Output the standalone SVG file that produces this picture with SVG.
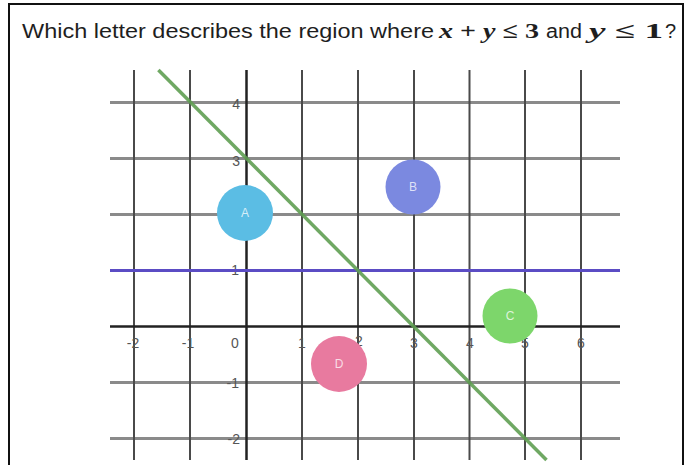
<svg xmlns="http://www.w3.org/2000/svg" width="686" height="465" viewBox="0 0 686 465">
<style>
.title{font-family:"Liberation Sans","Open Sans",sans-serif;font-size:20px;fill:#1e1e1e}
.m{font-family:"Liberation Serif",serif;font-weight:bold;font-size:22px;fill:#1e1e1e}
.mi{font-style:italic}
.hg{stroke:#8a8a8a;stroke-width:3}
.vg{stroke:#4a4a4a;stroke-width:2}
.ax{stroke:#222;stroke-width:2.5}
.lbl{font-family:"Liberation Sans",Arial,sans-serif;font-size:14px;fill:#555}
.cl{font-family:"Liberation Sans",Arial,sans-serif;font-size:12px;fill:#ffffff;fill-opacity:0.75;text-anchor:middle}
</style>
<rect x="0" y="0" width="686" height="465" fill="#ffffff"/>
<path d="M9,465 V4 H683 V465" fill="none" stroke="#111" stroke-width="2"/>
<g id="title">
<text class="title" x="22" y="38" textLength="412" lengthAdjust="spacingAndGlyphs">Which letter describes the region where</text>
<text class="m" x="439" y="38" textLength="100" lengthAdjust="spacingAndGlyphs"><tspan class="mi">x</tspan> + <tspan class="mi">y</tspan> ≤ 3</text>
<text class="title" x="546" y="38" textLength="36" lengthAdjust="spacingAndGlyphs">and</text>
<text class="m" x="589" y="38" textLength="74" lengthAdjust="spacingAndGlyphs"><tspan class="mi">y</tspan> ≤ 1</text>
<text class="title" x="665" y="38">?</text>
</g>
<g id="grid">
<line class="hg" x1="110" y1="102.5" x2="620" y2="102.5"/>
<line class="hg" x1="110" y1="158.5" x2="620" y2="158.5"/>
<line class="hg" x1="110" y1="214.5" x2="620" y2="214.5"/>
<line class="hg" x1="110" y1="382.5" x2="620" y2="382.5"/>
<line class="hg" x1="110" y1="438.5" x2="620" y2="438.5"/>
<line class="vg" x1="134" y1="70" x2="134" y2="460"/>
<line class="vg" x1="190" y1="70" x2="190" y2="460"/>
<line class="vg" x1="302" y1="70" x2="302" y2="460"/>
<line class="vg" x1="358" y1="70" x2="358" y2="460"/>
<line class="vg" x1="414" y1="70" x2="414" y2="460"/>
<line class="vg" x1="469.5" y1="70" x2="469.5" y2="460"/>
<line class="vg" x1="525" y1="70" x2="525" y2="460"/>
<line class="vg" x1="581" y1="70" x2="581" y2="460"/>
<line class="ax" x1="246.5" y1="70" x2="246.5" y2="460"/>
<line class="ax" x1="110" y1="326.5" x2="620" y2="326.5"/>
</g>
<g id="labels">
<text class="lbl" x="240" y="109" text-anchor="end">4</text>
<text class="lbl" x="240" y="166" text-anchor="end">3</text>
<text class="lbl" x="239" y="275" text-anchor="end">1</text>
<text class="lbl" x="239" y="388" text-anchor="end">-1</text>
<text class="lbl" x="240" y="444" text-anchor="end">-2</text>
<text class="lbl" x="133" y="348" text-anchor="middle">-2</text>
<text class="lbl" x="188" y="348" text-anchor="middle">-1</text>
<text class="lbl" x="235" y="348" text-anchor="middle">0</text>
<text class="lbl" x="302" y="348" text-anchor="middle">1</text>
<text class="lbl" x="359" y="346" text-anchor="middle">2</text>
<text class="lbl" x="414" y="348" text-anchor="middle">3</text>
<text class="lbl" x="470" y="348" text-anchor="middle">4</text>
<text class="lbl" x="525" y="348" text-anchor="middle">5</text>
<text class="lbl" x="581" y="348" text-anchor="middle">6</text>
</g>
<g id="connectors">
<line id="line-y1" x1="110" y1="270.5" x2="620" y2="270.5" stroke="#5b4cc4" stroke-width="3"/>
<line id="line-xy3" x1="158.4" y1="70" x2="546.5" y2="460" stroke="#5f9e52" stroke-width="3.5" stroke-opacity="0.9"/>
</g>
<g id="A"><circle cx="245" cy="213" r="28" fill="#5bbde4"/><text class="cl" x="245" y="217">A</text></g>
<g id="B"><circle cx="413" cy="187" r="27.5" fill="#7b89e0"/><text class="cl" x="413" y="191">B</text></g>
<g id="C"><circle cx="510" cy="316" r="27.5" fill="#7dd66b"/><text class="cl" x="510" y="320">C</text></g>
<g id="D"><circle cx="339" cy="364" r="28" fill="#e87a9f"/><text class="cl" x="339" y="368">D</text></g>
</svg>
